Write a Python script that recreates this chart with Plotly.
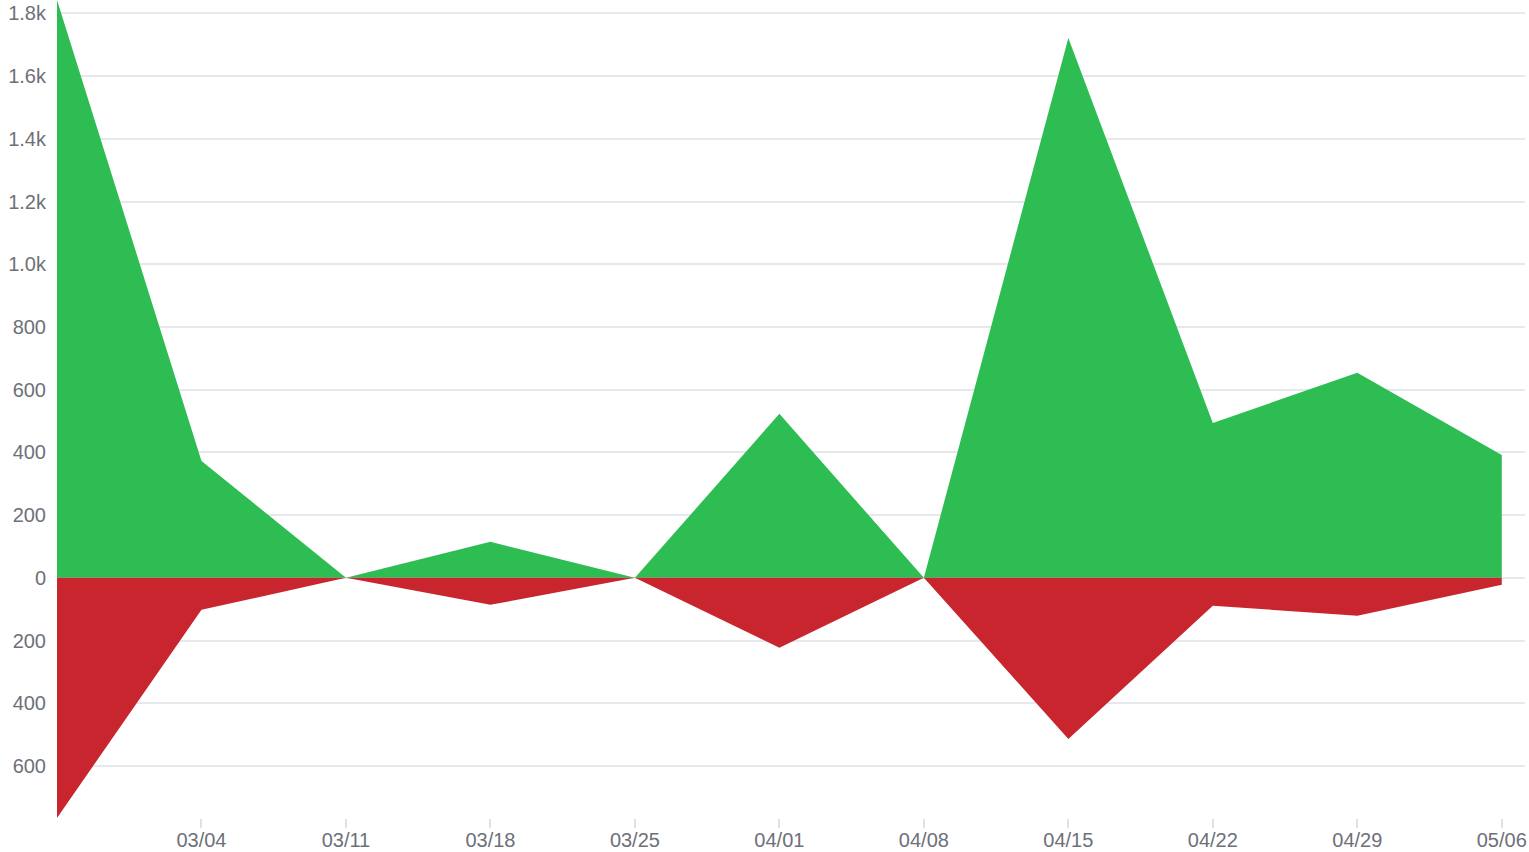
import plotly.graph_objects as go
import pandas as pd

dates = ["2025-02-25", "2025-03-04", "2025-03-11", "2025-03-18", "2025-03-25",
         "2025-04-01", "2025-04-08", "2025-04-15", "2025-04-22", "2025-04-29", "2025-05-06"]
gains = [1843, 373, 0, 115, 0, 523, 0, 1722, 494, 654, 392]
losses = [-766, -102, 0, -86, 0, -223, 0, -514, -89, -121, -22]

ytickvals = [-600, -400, -200, 0, 200, 400, 600, 800, 1000, 1200, 1400, 1600, 1800]
yticktext = ["600", "400", "200", "0", "200", "400", "600", "800", "1.0k", "1.2k", "1.4k", "1.6k", "1.8k"]

x = pd.to_datetime(dates)

fig = go.Figure()
fig.add_trace(go.Scatter(x=x, y=gains, fill="tozeroy", mode="lines",
                         line=dict(width=0, color="#2ebd52"), fillcolor="#2ebd52",
                         showlegend=False, hoverinfo="x+y"))
fig.add_trace(go.Scatter(x=x, y=losses, fill="tozeroy", mode="lines",
                         line=dict(width=0, color="#c9252f"), fillcolor="#c9252f",
                         showlegend=False, hoverinfo="x+y"))

fig.update_layout(
    width=1529, height=852,
    margin=dict(l=57, r=4, t=0, b=34),
    plot_bgcolor="white", paper_bgcolor="white",
    font=dict(family="Liberation Sans, Arial, sans-serif", size=20, color="#6e7079"),
)
fig.update_xaxes(
    range=[x[0], x[-1] + pd.Timedelta(hours=27)],
    tickvals=x[1:], tickformat="%m/%d",
    showgrid=False, zeroline=False, showline=False,
    ticks="outside", ticklen=9, tickcolor="#dde1e8", tickwidth=2,
    ticklabelstandoff=-5, automargin=False,
)
fig.update_yaxes(
    range=[-766, 1843],
    tickvals=ytickvals, ticktext=yticktext,
    showgrid=True, gridcolor="#e6e8ec", gridwidth=1.5,
    zeroline=False, showline=False, ticks="",
    ticklabelstandoff=10, automargin=False,
)

fig.write_html("out.html", config={"displayModeBar": False},
               post_script="document.body.style.margin='0';document.body.style.overflow='hidden';")
